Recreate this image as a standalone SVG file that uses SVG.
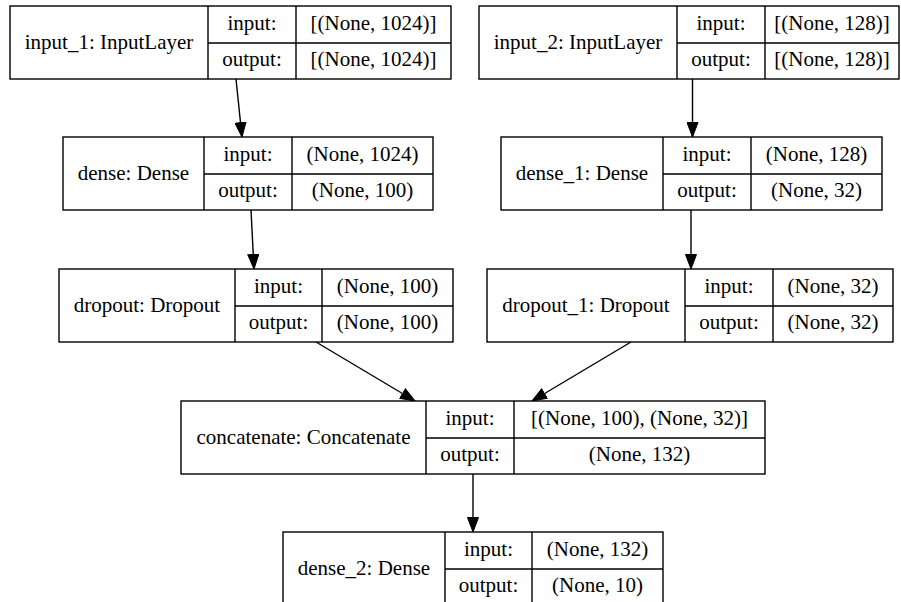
<svg xmlns="http://www.w3.org/2000/svg" width="901" height="602" viewBox="0 0 901 602" font-family="'Liberation Serif', 'DejaVu Serif', serif">
  <style>
    .box { fill: #ffffff; stroke: #000000; stroke-width: 1.4; }
    .sep { stroke: #000000; stroke-width: 1.4; fill: none; }
    text { font-family: 'Liberation Serif', 'DejaVu Serif', serif; font-size: 21px; fill: #000000; text-anchor: middle; }
    .edge { stroke: #000000; stroke-width: 1.4; fill: none; marker-end: url(#arrow); }
  </style>
  <defs>
    <marker id="arrow" markerUnits="userSpaceOnUse" markerWidth="16" markerHeight="12" refX="15" refY="6" orient="auto">
      <path d="M0.5,0.5 L15,6 L0.5,11.5 z" fill="#000000" stroke="#000000" stroke-width="1"/>
    </marker>
  </defs>
  <rect x="0" y="0" width="901" height="602" fill="#ffffff"/>

  <g id="edges">
    <line class="edge" x1="236" y1="79" x2="242" y2="137"/>
    <line class="edge" x1="692.5" y1="79" x2="692.5" y2="137"/>
    <line class="edge" x1="251" y1="210" x2="254" y2="269"/>
    <line class="edge" x1="691" y1="210" x2="691" y2="269"/>
    <line class="edge" x1="316" y1="342" x2="415" y2="401"/>
    <line class="edge" x1="631" y1="342" x2="532" y2="401"/>
    <line class="edge" x1="473" y1="474" x2="473" y2="532"/>
  </g>

  <!-- input_1 -->
  <g id="input_1">
    <rect class="box" x="10" y="6" width="441" height="73"/>
    <path class="sep" d="M208,6 V79 M296,6 V79 M208,43 H451"/>
    <text x="109" y="49">input_1: InputLayer</text>
    <text x="252" y="30">input:</text>
    <text x="252" y="66">output:</text>
    <text x="373.5" y="30">[(None, 1024)]</text>
    <text x="373.5" y="66">[(None, 1024)]</text>
  </g>

  <!-- input_2 -->
  <g id="input_2">
    <rect class="box" x="479" y="6" width="420" height="73"/>
    <path class="sep" d="M677,6 V79 M765,6 V79 M677,43 H899"/>
    <text x="578" y="49">input_2: InputLayer</text>
    <text x="721" y="30">input:</text>
    <text x="721" y="66">output:</text>
    <text x="832" y="30">[(None, 128)]</text>
    <text x="832" y="66">[(None, 128)]</text>
  </g>

  <!-- dense -->
  <g id="dense">
    <rect class="box" x="63" y="137" width="370" height="73"/>
    <path class="sep" d="M204,137 V210 M292,137 V210 M204,174 H433"/>
    <text x="133.5" y="180">dense: Dense</text>
    <text x="248" y="161">input:</text>
    <text x="248" y="197">output:</text>
    <text x="362.5" y="161">(None, 1024)</text>
    <text x="362.5" y="197">(None, 100)</text>
  </g>

  <!-- dense_1 -->
  <g id="dense_1">
    <rect class="box" x="501" y="137" width="381" height="73"/>
    <path class="sep" d="M663,137 V210 M751,137 V210 M663,174 H882"/>
    <text x="582" y="180">dense_1: Dense</text>
    <text x="707" y="161">input:</text>
    <text x="707" y="197">output:</text>
    <text x="816.5" y="161">(None, 128)</text>
    <text x="816.5" y="197">(None, 32)</text>
  </g>

  <!-- dropout -->
  <g id="dropout">
    <rect class="box" x="59" y="269" width="394" height="73"/>
    <path class="sep" d="M235,269 V342 M322,269 V342 M235,306 H453"/>
    <text x="147" y="312">dropout: Dropout</text>
    <text x="278.5" y="293">input:</text>
    <text x="278.5" y="329">output:</text>
    <text x="387.5" y="293">(None, 100)</text>
    <text x="387.5" y="329">(None, 100)</text>
  </g>

  <!-- dropout_1 -->
  <g id="dropout_1">
    <rect class="box" x="487" y="269" width="406" height="73"/>
    <path class="sep" d="M685,269 V342 M773,269 V342 M685,306 H893"/>
    <text x="586" y="312">dropout_1: Dropout</text>
    <text x="729" y="293">input:</text>
    <text x="729" y="329">output:</text>
    <text x="833" y="293">(None, 32)</text>
    <text x="833" y="329">(None, 32)</text>
  </g>

  <!-- concatenate -->
  <g id="concatenate">
    <rect class="box" x="181" y="401" width="584" height="73"/>
    <path class="sep" d="M426,401 V474 M514,401 V474 M426,438 H765"/>
    <text x="303.5" y="444">concatenate: Concatenate</text>
    <text x="470" y="425">input:</text>
    <text x="470" y="461">output:</text>
    <text x="639.5" y="425">[(None, 100), (None, 32)]</text>
    <text x="639.5" y="461">(None, 132)</text>
  </g>

  <!-- dense_2 -->
  <g id="dense_2">
    <rect class="box" x="283" y="532" width="380" height="73"/>
    <path class="sep" d="M445,532 V605 M532,532 V605 M445,569 H663"/>
    <text x="364" y="575">dense_2: Dense</text>
    <text x="488.5" y="556">input:</text>
    <text x="488.5" y="592">output:</text>
    <text x="597.5" y="556">(None, 132)</text>
    <text x="597.5" y="592">(None, 10)</text>
  </g>
</svg>
